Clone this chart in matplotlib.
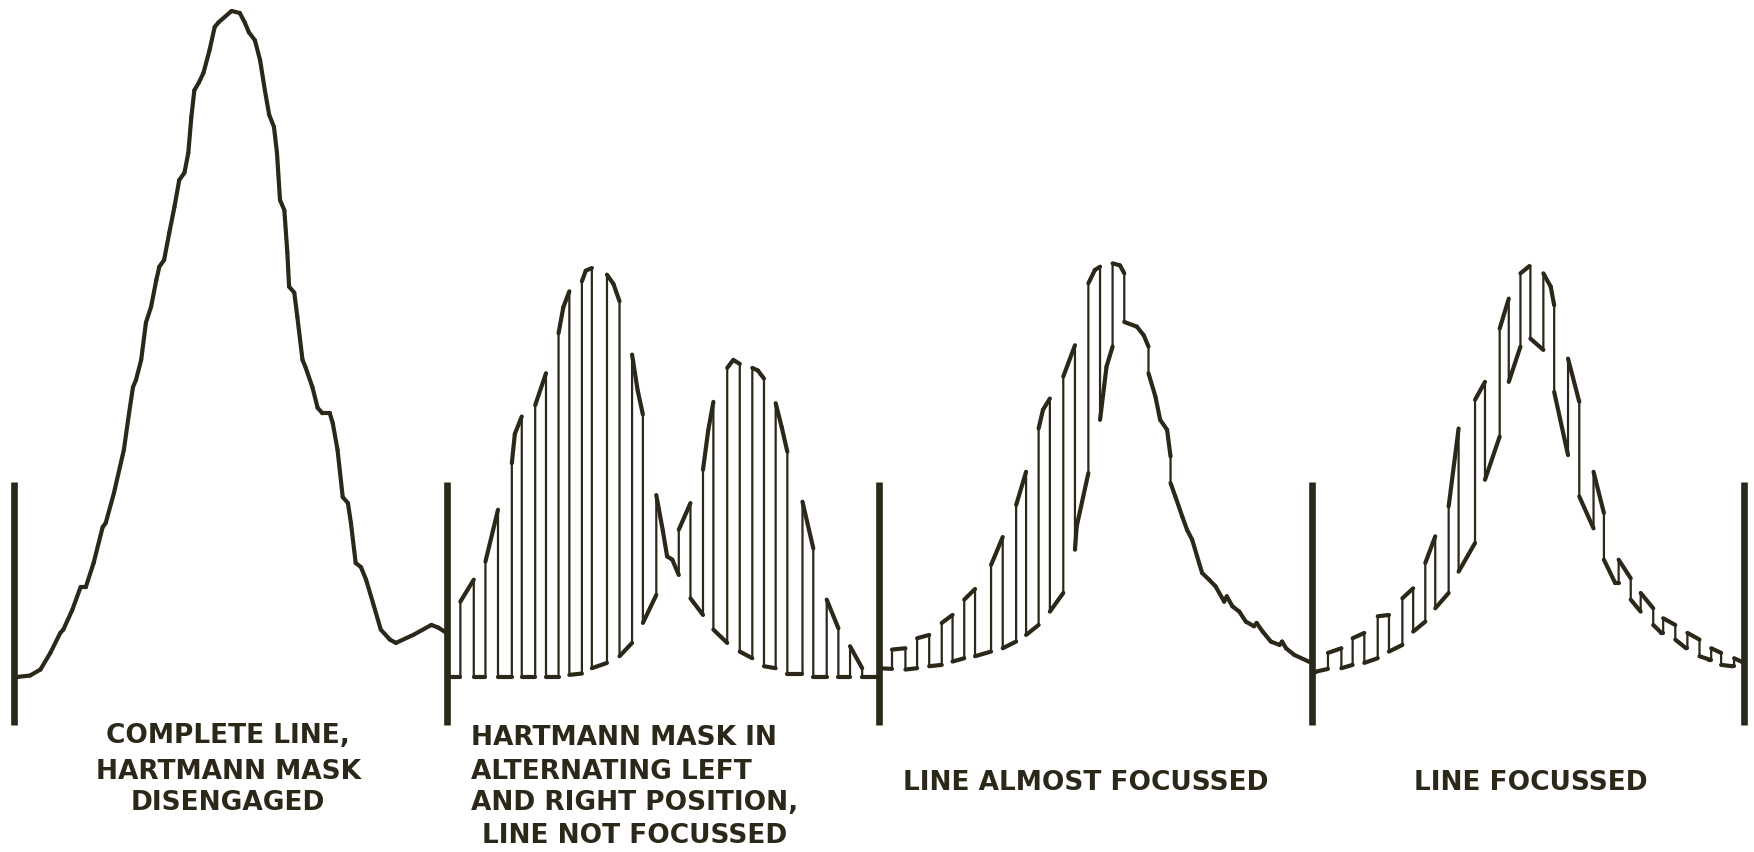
import numpy as np
import matplotlib.pyplot as plt
from matplotlib.collections import LineCollection

INK = '#2b2719'
PAPER = '#ffffff'

# Recorder traces: scan position across each window (0-100) and
# intensity (peak of the open profile = 100).
complete_x = [0, 0.9, 3.7, 6.1, 8.4, 10.7, 11.4, 13.5, 15.4, 16.6, 18.4, 20.5, 21.2,
              23.1, 25.4, 26.6, 27.5, 28.2, 29.4, 30.5, 31.7, 32.9, 33.6, 34.7, 35.9,
              37.1, 38.2, 39.4, 40.3, 41.0, 41.7, 42.7, 43.8, 45.2, 46.4, 47.3, 50.3,
              52.2, 53.4, 54.3, 55.7, 56.9, 58.0, 59.0, 60.1, 60.8, 61.5, 62.5, 63.2,
              63.6, 64.8, 65.5, 66.7, 67.4, 69.0, 70.2, 71.3, 73.0, 73.7, 74.8, 76.0,
              77.2, 77.9, 79.0, 80.2, 81.4, 83.0, 84.8, 86.9, 88.3, 92.3, 96.5, 98.1, 100]
complete_y = [0, 0, 0.2, 1.1, 3.6, 6.6, 7.1, 10.1, 13.5, 13.5, 17.1, 22.5, 23.1,
              27.6, 34.1, 39.6, 43.5, 44.6, 47.6, 53.2, 55.6, 59.6, 61.6, 62.6, 66.7,
              70.6, 74.6, 75.7, 78.7, 84.1, 88.1, 89.2, 90.7, 94.1, 97.6, 98.3, 100,
              99.7, 98.2, 96.8, 95.6, 92.6, 88.1, 84.4, 82.6, 78.7, 71.6, 70.1, 63.7,
              58.6, 57.7, 54.1, 47.6, 46.5, 43.5, 40.4, 39.6, 39.6, 38.1, 34.1, 27.0,
              26.1, 23.1, 17.1, 16.5, 14.6, 11.1, 7.1, 5.6, 5.1, 6.3, 7.8, 7.4, 6.6]

# mask alternating left/right, line out of focus
unfocused = [
    (0, 0), (3.2, 0), (3.2, 11.3), (6.3, 14.6), (6.3, 0), (9.0, 0), (9.0, 17.3),
    (11.9, 25.1), (11.9, 0), (15.1, 0), (15.1, 32.1), (15.8, 36.5), (17.4, 39.1),
    (17.4, 0), (20.5, 0), (20.5, 40.8), (23.0, 45.6), (23.0, 0), (25.9, 0),
    (25.9, 51.6), (27.0, 55.5), (28.4, 57.9), (28.4, 0.3), (31.3, 0.5), (31.3, 59.4),
    (32.2, 61.0), (33.6, 61.4), (33.6, 1.3), (37.1, 2.1), (37.1, 60.4), (38.6, 59.0),
    (40.0, 56.4), (40.0, 3.1), (42.9, 5.1), (42.9, 48.4), (44.2, 43.0), (45.4, 39.4),
    (45.4, 8.1), (48.5, 12.3), (48.5, 27.3), (50.0, 22.0), (51.0, 18.1), (52.2, 17.6),
    (53.7, 15.3), (53.7, 22.1), (56.4, 26.1), (56.4, 11.8), (59.3, 9.3), (59.3, 31.1),
    (60.5, 37.0), (61.7, 41.3), (61.7, 7.1), (64.9, 5.1), (64.9, 46.4), (66.3, 47.6),
    (67.8, 47.0), (67.8, 3.8), (70.7, 2.8), (70.7, 46.4), (72.0, 46.0), (73.4, 44.8),
    (73.4, 1.6), (76.1, 1.3), (76.1, 41.1), (77.5, 37.5), (78.8, 33.8), (78.8, 0.5),
    (82.3, 0.5), (82.3, 26.3), (84.8, 19.3), (84.8, 0), (87.9, 0), (87.9, 11.6),
    (90.6, 7.3), (90.6, 0), (93.3, 0), (93.3, 4.6), (96.1, 1.3), (96.1, 0), (100, 0),
]

almost_focused = [
    (0, 1.3), (3.0, 1.2), (3.0, 4.1), (6.1, 4.3), (6.1, 1.1), (8.8, 1.3), (8.8, 5.8),
    (11.6, 6.3), (11.6, 1.6), (14.5, 1.8), (14.5, 8.1), (17.0, 9.3), (17.0, 2.3),
    (19.7, 2.8), (19.7, 11.6), (22.2, 13.2), (22.2, 3.1), (25.9, 3.8), (25.9, 16.8),
    (28.6, 21.0), (28.6, 4.3), (31.7, 5.3), (31.7, 25.8), (34.0, 30.8), (34.0, 6.3),
    (36.9, 7.8), (36.9, 37.3), (37.9, 40.1), (39.5, 41.8), (39.5, 9.8), (42.6, 12.6),
    (42.6, 45.1), (45.3, 49.8), (45.3, 19.1), (45.7, 22.6), (48.4, 30.6), (48.4, 59.1),
    (49.9, 61.1), (51.1, 61.6), (51.1, 38.6), (52.6, 46.6), (54.0, 49.6), (54.0, 62.1),
    (55.7, 61.8), (56.7, 60.6), (56.7, 53.3), (59.6, 52.6), (61.2, 51.3), (62.3, 49.6),
    (62.3, 45.6), (63.9, 42.1), (65.0, 38.6), (66.6, 37.1), (67.4, 33.1), (67.4, 29.1),
    (68.5, 27.1), (70.1, 24.1), (71.2, 22.1), (72.4, 20.6), (74.0, 17.1), (74.7, 15.6),
    (76.3, 14.6), (77.8, 13.6), (79.8, 11.3), (80.4, 12.1), (81.7, 10.6), (83.3, 9.8),
    (84.8, 8.3), (86.7, 7.6), (87.3, 8.1), (88.7, 6.8), (90.6, 5.3), (92.6, 4.8),
    (93.2, 5.3), (94.1, 4.3), (96.0, 3.3), (100, 2.1),
]

focused = [
    (0, 0.8), (1.1, 0.8), (3.8, 1.2), (3.8, 3.6), (6.9, 4.3), (6.9, 1.3), (9.5, 1.8),
    (9.5, 5.8), (12.2, 6.6), (12.2, 2.1), (15.3, 2.8), (15.3, 9.1), (17.9, 9.3),
    (17.9, 3.8), (21.0, 4.8), (21.0, 11.8), (23.5, 13.3), (23.5, 6.8), (26.3, 8.3),
    (26.3, 17.1), (28.6, 21.1), (28.6, 10.3), (31.7, 12.6), (31.7, 25.6), (34.0, 37.3),
    (34.0, 15.8), (37.8, 20.1), (37.8, 41.6), (40.1, 44.3), (40.1, 29.6), (43.5, 36.1),
    (43.5, 52.3), (45.6, 56.8), (45.6, 44.3), (48.3, 49.6), (48.3, 60.6), (50.4, 61.7),
    (50.6, 61.7), (50.6, 50.8), (53.6, 49.1), (53.6, 60.6), (55.3, 58.6), (56.1, 55.8),
    (56.1, 42.8), (59.3, 33.3), (59.3, 47.8), (61.9, 41.3), (61.9, 27.1), (65.2, 22.3),
    (65.2, 30.8), (67.6, 24.6), (67.6, 17.6), (70.2, 14.1), (71.0, 14.1), (71.0, 17.6),
    (73.8, 14.8), (73.8, 11.6), (76.1, 9.8), (76.1, 12.6), (79.0, 10.3), (79.0, 7.8),
    (80.9, 6.6), (81.3, 6.6), (81.3, 8.8), (84.1, 7.8), (84.1, 5.6), (86.6, 4.3),
    (86.9, 4.3), (86.9, 6.6), (89.7, 5.6), (89.7, 3.1), (92.0, 2.6), (92.4, 2.6),
    (92.4, 4.3), (94.7, 3.6), (94.7, 1.8), (97.3, 1.6), (97.7, 1.6), (97.7, 2.8),
    (100, 2.1),
]

panel_labels = [
    ['COMPLETE LINE,', 'HARTMANN MASK', 'DISENGAGED'],
    ['HARTMANN MASK IN', 'ALTERNATING LEFT', 'AND RIGHT POSITION,', 'LINE NOT FOCUSSED'],
    ['LINE ALMOST FOCUSSED'],
    ['LINE FOCUSSED'],
]

# window edge markers (intensity units)
MARK_TOP, MARK_BOTTOM = 29.3, -7.2

fig = plt.figure(figsize=(17.54, 8.52), dpi=100, facecolor=PAPER)
ax = fig.add_axes([0, 0, 1, 1])
ax.set_xlim(-3.24, 402.3)
ax.set_ylim(-26.3, 101.65)
ax.axis('off')

traces = [list(zip(complete_x, complete_y)), unfocused, almost_focused, focused]
xs, ys = [], []
for k, tr in enumerate(traces):
    arr = np.array(tr, dtype=float)
    xs.append(arr[:, 0] + 100 * k)
    ys.append(arr[:, 1])
xs = np.concatenate(xs)
ys = np.concatenate(ys)

# fast pen swings are thin, slow drift of the pen leaves a heavier line
ax.plot(xs, ys, color=INK, lw=1.6, solid_joinstyle='round', solid_capstyle='round')
pts = np.column_stack([xs, ys])
segs = np.stack([pts[:-1], pts[1:]], axis=1)
slow = np.diff(xs) > 0.01
ax.add_collection(LineCollection(segs[slow], colors=INK, linewidths=3.0,
                                 capstyle='round', joinstyle='round'))

ax.vlines([0, 100, 200, 300, 400], MARK_BOTTOM, MARK_TOP, colors=INK, lw=4.8)

txt = dict(color=INK, fontsize=19, fontweight='bold', family='DejaVu Sans', va='center')
for i, line in enumerate(panel_labels[0]):
    ax.text(49.5, [-8.9, -14.3, -18.9][i], line, ha='center', **txt)
for i, line in enumerate(panel_labels[1]):
    ax.text(108.2 if i == 3 else 105.7, [-9.2, -14.3, -18.9, -23.9][i], line,
            ha='left', **txt)
ax.text(247.9, -15.9, panel_labels[2][0], ha='center', **txt)
ax.text(350.8, -15.9, panel_labels[3][0], ha='center', **txt)

fig.savefig('out.png', dpi=100, facecolor=PAPER)
